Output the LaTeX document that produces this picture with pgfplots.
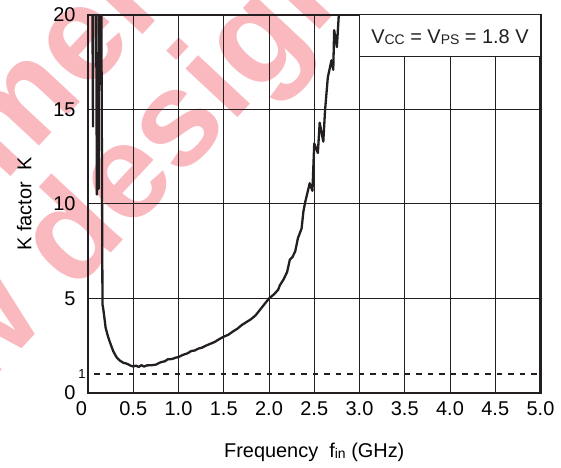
\documentclass[border=0pt]{standalone}
\usepackage{fontspec}
\setmainfont{Liberation Sans}
\usepackage{pgfplots}
\pgfplotsset{compat=1.18}
\definecolor{wm}{RGB}{249,185,190}
\definecolor{ink}{RGB}{35,31,32}
\newcommand\sub[1]{{\fontsize{14}{14}\selectfont\raisebox{-1bp}{#1}}}

\pgfplotstableread{
f K
0.040 30
0.055 14.1
0.062 30
0.083 30
0.098 10.5
0.112 18.0
0.118 10.8
0.125 30
0.140 30
0.160 4.70
0.170 4.40
0.195 3.45
0.220 3.00
0.245 2.65
0.280 2.20
0.317 1.88
0.350 1.72
0.390 1.60
0.430 1.55
0.470 1.45
0.500 1.40
0.530 1.45
0.560 1.38
0.590 1.47
0.620 1.40
0.650 1.46
0.700 1.47
0.750 1.50
0.800 1.62
0.850 1.68
0.880 1.78
0.930 1.80
0.970 1.87
1.000 1.90
1.050 2.02
1.100 2.10
1.140 2.22
1.180 2.25
1.220 2.35
1.260 2.40
1.300 2.50
1.340 2.58
1.400 2.70
1.450 2.85
1.500 2.98
1.550 3.08
1.600 3.25
1.650 3.40
1.700 3.60
1.750 3.75
1.800 3.90
1.850 4.10
1.900 4.40
1.950 4.70
2.000 5.00
2.050 5.20
2.100 5.45
2.120 5.70
2.160 6.00
2.200 6.40
2.230 7.05
2.260 7.20
2.290 7.50
2.320 8.20
2.360 8.70
2.380 9.60
2.400 10.10
2.430 10.70
2.450 11.10
2.480 10.70
2.500 13.20
2.540 12.70
2.560 14.30
2.600 13.30
2.620 15.00
2.650 16.70
2.690 17.60
2.710 17.10
2.720 19.20
2.750 18.30
2.790 21.50
}\kdata

\begin{document}
\begin{tikzpicture}
% watermark (behind everything)
\begin{scope}[overlay, shift={(76bp,228bp)}, rotate=47, transform shape]
\node[anchor=base, text=wm, inner sep=0pt,
      font=\fontsize{135}{135}\selectfont\bfseries] at (-82bp,-35bp) {for new design};
\node[anchor=base, text=wm, inner sep=0pt,
      font=\fontsize{135}{135}\selectfont\bfseries] at (-82bp,91bp) {Not recommended};
\end{scope}

\begin{axis}[
  at={(88bp,75bp)}, anchor=south west,
  scale only axis, width=452.5bp, height=378bp,
  xmin=0, xmax=5, ymin=0, ymax=20,
  xtick={0,0.5,1,1.5,2,2.5,3,3.5,4,4.5,5},
  xticklabels={\makebox[0pt][r]{0\hspace{1bp}},0.5,1.0,1.5,2.0,2.5,3.0,3.5,4.0,4.5,5.0},
  ytick={0,5,10,15,20},
  yticklabels={0,5,10,15,20},
  extra y ticks={1},
  extra y tick labels={1},
  extra y tick style={grid=none, tick label style={font=\fontsize{13}{13}\selectfont, xshift=10bp}},
  grid=major,
  major grid style={line width=1bp, color=ink},
  axis line style={line width=2.3bp, color=ink},
  tick style={draw=none},
  tick label style={font=\fontsize{20}{24}\selectfont},
  y tick label style={xshift=-9bp},
  x tick label style={yshift=-5bp},
  /pgf/number format/assume math mode=true,
  xlabel={Frequency\ \ f\sub{in} (GHz)},
  ylabel={K factor\ \ K},
  label style={font=\fontsize{20}{24}\selectfont},
  xlabel style={at={(axis description cs:0.5,-0.156)}, anchor=center},
  ylabel style={at={(axis description cs:-0.141,0.5)}, anchor=center},
  clip mode=individual,
]
\addplot[ink, line width=2bp, dash pattern=on 5.5bp off 6bp, dash phase=5.5bp] coordinates {(0,1) (5,1)};
\addplot[ink, line width=2.3bp, line join=round] table[x=f, y=K] {\kdata};
\draw[line width=1bp, color=ink, fill=white] (axis cs:3,17.8) rectangle (axis cs:5,20);
\node[font=\fontsize{20}{24}\selectfont, text=ink] at (axis cs:4,18.85) {V\sub{CC} = V\sub{PS} = 1.8 V};
\end{axis}
\pgfresetboundingbox
\path[use as bounding box] (0bp,0bp) rectangle (561bp,468bp);
\end{tikzpicture}
\end{document}
